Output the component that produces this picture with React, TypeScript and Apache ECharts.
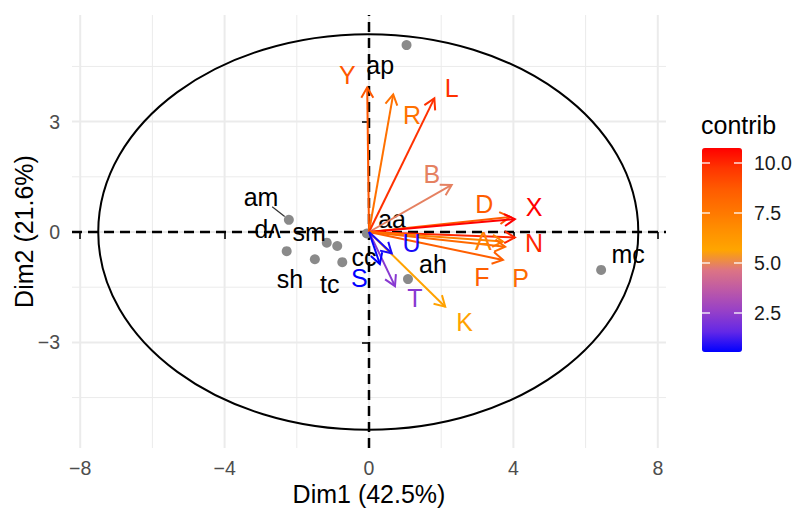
import React, { useEffect, useRef } from 'react';
import * as echarts from 'echarts';

// ---- axis ticks / grid ----
const xTicks = [-8, -4, 0, 4, 8];
const yTicks = [-3, 0, 3];
const xMinorGrid = [-6, -2, 2, 6];
const yMinorGrid = [-4.5, -1.5, 1.5, 4.5];
const xRange = [-8.227, 8.227];
const yRange = [-5.87, 5.897];

// ---- individuals ----
const indNames = ['am', 'vp', 'sm', 'cc', 'sh', 'tc', 'aa', 'ah', 'mc', 'ap'];
const indX = [-2.22, -2.28, -1.17, -0.88, -1.5, -0.74, -0.06, 1.08, 6.43, 1.04];
const indY = [0.33, -0.52, -0.29, -0.38, -0.74, -0.82, -0.04, -1.28, -1.03, 5.08];
const indLabelX = [-2.99, -2.81, -1.66, -0.14, -2.19, -1.09, 0.64, 1.77, 7.18, 0.31];
const indLabelY = [0.94, -0.03, 0.01, -0.67, -1.28, -1.41, 0.35, -0.87, -0.6, 4.54];
const indLabelRotated = ['vp'];
const indLabelConnected = ['am'];

// ---- variables ----
const varNames = ['Y', 'R', 'L', 'B', 'D', 'X', 'N', 'A', 'P', 'F', 'K', 'T', 'U', 'S'];
const varX = [-0.05, 0.67, 1.81, 2.29, 3.91, 4.04, 4.04, 3.71, 3.77, 3.71, 2.11, 0.72, 0.63, 0.3];
const varY = [3.93, 3.74, 3.63, 1.28, 0.41, 0.35, -0.15, -0.26, -0.4, -0.76, -2.03, -1.47, -0.58, -0.87];
const varContrib = [8.8, 7.8, 9.8, 4.9, 8.6, 10.75, 10.0, 7.2, 8.1, 8.5, 5.8, 2.3, 0.8, 0.55];
const varLabelX = [-0.6, 1.19, 2.29, 1.74, 3.19, 4.57, 4.57, 3.17, 4.2, 3.13, 2.65, 1.27, 1.18, -0.27];
const varLabelY = [4.27, 3.17, 3.91, 1.58, 0.77, 0.69, -0.3, -0.24, -1.25, -1.22, -2.45, -1.79, -0.3, -1.25];

// ---- colour scale ----
const contribRange = [0.55, 10.75];
const contribColors = ['#0000ff', '#6428e6', '#9640c8', '#bc58a8', '#dc7484', '#ffa500', '#ff8f00', '#ff7400', '#ff5a00', '#ff3500', '#ff0000'];
const legendTicks = [2.5, 5.0, 7.5, 10.0];

// ---- ellipse ----
const ellipseCenter = [-0.02, 0.0];
const ellipseRadii = [7.48, 5.375];

const FONT = "'Liberation Sans', Arial, Helvetica, sans-serif";

const fmt = (v: number, d = 0) => (v < 0 ? '\u2212' : '') + Math.abs(v).toFixed(d);

export default function App() {
  const ref = useRef<HTMLDivElement>(null);
  useEffect(() => {
    if (!ref.current) return;
    const chart = echarts.init(ref.current, undefined, { renderer: 'svg' });

    const gridL = 72, gridR = 666, gridT = 15, gridB = 448;
    const barLeft = 702, barTop = 148, barW = 40, barH = 204;
    const valToBarY = (v: number) => barTop + ((contribRange[1] - v) / (contribRange[1] - contribRange[0])) * barH;

    const legendGraphics: any[] = [];
    legendTicks.forEach((v) => {
      const y = valToBarY(v);
      legendGraphics.push({ type: 'line', shape: { x1: barLeft, y1: y, x2: barLeft + 8, y2: y }, style: { stroke: 'rgba(255,255,255,0.85)', lineWidth: 1.5 }, z: 100 });
      legendGraphics.push({ type: 'line', shape: { x1: barLeft + barW - 8, y1: y, x2: barLeft + barW, y2: y }, style: { stroke: 'rgba(255,255,255,0.85)', lineWidth: 1.5 }, z: 100 });
      legendGraphics.push({ type: 'text', x: 754, y, style: { text: v.toFixed(1), font: `19.5px ${FONT}`, fill: '#1a1a1a', textAlign: 'left', textVerticalAlign: 'middle' }, z: 100 });
    });

    const option: any = {
      animation: false,
      backgroundColor: '#ffffff',
      grid: { left: gridL, top: gridT, width: gridR - gridL, height: gridB - gridT, containLabel: false },
      xAxis: {
        type: 'value', min: xRange[0], max: xRange[1],
        axisLine: { show: false },
        splitLine: { show: false },
        axisTick: { show: true, customValues: xTicks, length: 7, lineStyle: { color: '#333333', width: 2 } },
        axisLabel: { customValues: xTicks, formatter: (v: number) => fmt(v), color: '#4d4d4d', fontSize: 19.5, fontFamily: FONT, margin: 10 },
      },
      yAxis: {
        type: 'value', min: yRange[0], max: yRange[1],
        axisLine: { show: false },
        splitLine: { show: false },
        axisTick: { show: true, customValues: yTicks, length: 7, lineStyle: { color: '#333333', width: 2 } },
        axisLabel: { customValues: yTicks, formatter: (v: number) => fmt(v), color: '#4d4d4d', fontSize: 19.5, fontFamily: FONT, margin: 12 },
      },
      visualMap: {
        type: 'continuous', min: contribRange[0], max: contribRange[1], dimension: 2,
        seriesIndex: [4, 5], inRange: { color: contribColors },
        calculable: false, hoverLink: false, orient: 'vertical', left: barLeft, top: barTop,
        itemWidth: barW, itemHeight: barH, padding: 0, text: null, show: true,
      },
      graphic: [
        { type: 'text', x: (gridL + gridR) / 2, y: 494, style: { text: 'Dim1 (42.5%)', font: `25px ${FONT}`, fill: '#000', textAlign: 'center', textVerticalAlign: 'middle' } },
        { type: 'text', x: 24, y: (gridT + gridB) / 2, rotation: Math.PI / 2, style: { text: 'Dim2 (21.6%)', font: `25px ${FONT}`, fill: '#000', textAlign: 'center', textVerticalAlign: 'middle' } },
        { type: 'text', x: 701, y: 125, style: { text: 'contrib', font: `25px ${FONT}`, fill: '#000', textAlign: 'left', textVerticalAlign: 'middle' } },
        ...legendGraphics,
      ],
      series: [
        // 0: grid lines
        {
          type: 'custom', z: 0, silent: true, data: [[0, 0]],
          renderItem: (_p: any, api: any) => {
            const children: any[] = [];
            const vline = (v: number, w: number) => {
              const a = api.coord([v, yRange[0]]), b = api.coord([v, yRange[1]]);
              children.push({ type: 'line', shape: { x1: a[0], y1: a[1], x2: b[0], y2: b[1] }, style: { stroke: '#ebebeb', lineWidth: w } });
            };
            const hline = (v: number, w: number) => {
              const a = api.coord([xRange[0], v]), b = api.coord([xRange[1], v]);
              children.push({ type: 'line', shape: { x1: a[0], y1: a[1], x2: b[0], y2: b[1] }, style: { stroke: '#ebebeb', lineWidth: w } });
            };
            xMinorGrid.forEach((v) => vline(v, 1));
            yMinorGrid.forEach((v) => hline(v, 1));
            xTicks.forEach((v) => vline(v, 2));
            yTicks.forEach((v) => hline(v, 2));
            return { type: 'group', children };
          },
        },
        // 1: ellipse + dashed axes
        {
          type: 'custom', z: 1, silent: true, data: [[0, 0]],
          renderItem: (_p: any, api: any) => {
            const c = api.coord(ellipseCenter);
            const s = api.size(ellipseRadii);
            const h0 = api.coord([xRange[0], 0]), h1 = api.coord([xRange[1], 0]);
            const v0 = api.coord([0, yRange[0]]), v1 = api.coord([0, yRange[1]]);
            return {
              type: 'group', children: [
                { type: 'ellipse', shape: { cx: c[0], cy: c[1], rx: s[0], ry: s[1] }, style: { fill: 'none', stroke: '#000', lineWidth: 2 } },
                { type: 'line', shape: { x1: h0[0], y1: h0[1], x2: h1[0], y2: h1[1] }, style: { stroke: '#000', lineWidth: 2.5, lineDash: [10, 6] } },
                { type: 'line', shape: { x1: v0[0], y1: v0[1], x2: v1[0], y2: v1[1] }, style: { stroke: '#000', lineWidth: 2.5, lineDash: [10, 6] } },
              ],
            };
          },
        },
        // 2: individuals
        {
          type: 'scatter', z: 2, silent: true, symbolSize: 10,
          itemStyle: { color: '#8a8a8a', opacity: 1 },
          data: indX.map((x, i) => [x, indY[i]]),
        },
        // 3: individual labels
        {
          type: 'custom', z: 3, silent: true,
          data: indLabelX.map((x, i) => [x, indLabelY[i], indX[i], indY[i]]),
          renderItem: (p: any, api: any) => {
            const i = p.dataIndex;
            const name = indNames[i];
            const pos = api.coord([api.value(0), api.value(1)]);
            const pt = api.coord([api.value(2), api.value(3)]);
            const children: any[] = [];
            if (indLabelConnected.includes(name)) {
              const a = [pos[0] + (pt[0] - pos[0]) * 0.4, pos[1] + (pt[1] - pos[1]) * 0.42];
              const b = [pos[0] + (pt[0] - pos[0]) * 0.85, pos[1] + (pt[1] - pos[1]) * 0.85];
              children.push({ type: 'line', shape: { x1: a[0], y1: a[1], x2: b[0], y2: b[1] }, style: { stroke: '#333', lineWidth: 1.2 } });
            }
            children.push({
              type: 'text', x: pos[0], y: pos[1], rotation: indLabelRotated.includes(name) ? Math.PI : 0,
              style: { text: name, font: `25px ${FONT}`, fill: '#000', textAlign: 'center', textVerticalAlign: 'middle' },
            });
            return { type: 'group', children };
          },
        },
        // 4: variable arrows
        {
          type: 'custom', z: 4, silent: true,
          encode: { x: 0, y: 1 },
          data: varX.map((x, i) => [x, varY[i], varContrib[i]]),
          renderItem: (_p: any, api: any) => {
            const p0 = api.coord([0, 0]);
            const p1 = api.coord([api.value(0), api.value(1)]);
            const color = api.visual('color');
            const ang = Math.atan2(p1[1] - p0[1], p1[0] - p0[0]);
            const L = 12, a = Math.PI / 6;
            const h1 = [p1[0] - L * Math.cos(ang - a), p1[1] - L * Math.sin(ang - a)];
            const h2 = [p1[0] - L * Math.cos(ang + a), p1[1] - L * Math.sin(ang + a)];
            return {
              type: 'group', children: [
                { type: 'line', shape: { x1: p0[0], y1: p0[1], x2: p1[0], y2: p1[1] }, style: { stroke: color, lineWidth: 2 } },
                { type: 'polyline', shape: { points: [h1, p1, h2] }, style: { stroke: color, fill: 'none', lineWidth: 2 } },
              ],
            };
          },
        },
        // 5: variable labels
        {
          type: 'custom', z: 5, silent: true,
          encode: { x: 0, y: 1 },
          data: varLabelX.map((x, i) => [x, varLabelY[i], varContrib[i]]),
          renderItem: (p: any, api: any) => {
            const pos = api.coord([api.value(0), api.value(1)]);
            return {
              type: 'text', x: pos[0], y: pos[1],
              style: { text: varNames[p.dataIndex], font: `25px ${FONT}`, fill: api.visual('color'), textAlign: 'center', textVerticalAlign: 'middle' },
            };
          },
        },
      ],
    };
    chart.setOption(option);
    return () => chart.dispose();
  }, []);
  return <div ref={ref} style={{ position: 'fixed', left: 0, top: 0, width: 795, height: 511 }} />;
}
